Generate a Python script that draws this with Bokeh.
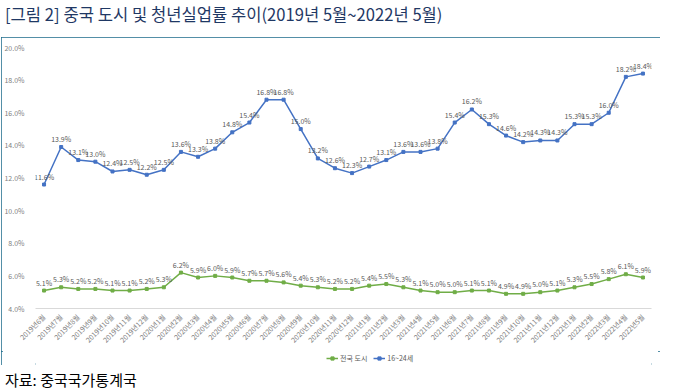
import math
from bokeh.plotting import figure
from bokeh.models import ColumnDataSource, FactorRange, Range1d, Legend, LegendItem, Div, FixedTicker, Spacer
from bokeh.layouts import column, row
from bokeh.embed import file_html
from bokeh.resources import INLINE
from bokeh.core.properties import value

months = ["2019년6월", "2019년7월", "2019년8월", "2019년9월", "2019년10월", "2019년11월", "2019년12월",
          "2020년1월", "2020년2월", "2020년3월", "2020년4월", "2020년5월", "2020년6월", "2020년7월",
          "2020년8월", "2020년9월", "2020년10월", "2020년11월", "2020년12월",
          "2021년1월", "2021년2월", "2021년3월", "2021년4월", "2021년5월", "2021년6월", "2021년7월",
          "2021년8월", "2021년9월", "2021년10월", "2021년11월", "2021년12월",
          "2022년1월", "2022년2월", "2022년3월", "2022년4월", "2022년5월"]
youth = [11.6, 13.9, 13.1, 13.0, 12.4, 12.5, 12.2, 12.5, 13.6, 13.3, 13.8, 14.8, 15.4, 16.8, 16.8, 15.0,
         13.2, 12.6, 12.3, 12.7, 13.1, 13.6, 13.6, 13.8, 15.4, 16.2, 15.3, 14.6, 14.2, 14.3, 14.3, 15.3,
         15.3, 16.0, 18.2, 18.4]
urban = [5.1, 5.3, 5.2, 5.2, 5.1, 5.1, 5.2, 5.3, 6.2, 5.9, 6.0, 5.9, 5.7, 5.7, 5.6, 5.4, 5.3, 5.2, 5.2,
         5.4, 5.5, 5.3, 5.1, 5.0, 5.0, 5.1, 5.1, 4.9, 4.9, 5.0, 5.1, 5.3, 5.5, 5.8, 6.1, 5.9]
series_names = ["전국 도시", "16~24세"]
y_ticks = [4, 6, 8, 10, 12, 14, 16, 18, 20]
y_tick_labels = ["4.0%", "6.0%", "8.0%", "10.0%", "12.0%", "14.0%", "16.0%", "18.0%", "20.0%"]
title_text = "[그림 2] 중국 도시 및 청년실업률 추이(2019년 5월~2022년 5월)"
source_text = "자료: 중국국가통계국"

FONT = "Noto Sans CJK KR"
BLUE = "#4472C4"
GREEN = "#70AD47"
LABEL = "#595959"
BORDER = "#1B6A8A"

src = ColumnDataSource(dict(
    m=months, youth=youth, urban=urban,
    youth_t=[f"{v:.1f}%" for v in youth],
    urban_t=[f"{v:.1f}%" for v in urban],
))

W = 659
p = figure(width=W, height=314, x_range=FactorRange(factors=months, range_padding=0),
           y_range=Range1d(4, 20), output_backend="svg", toolbar_location=None,
           min_border_left=28, min_border_right=9, min_border_top=10, min_border_bottom=40)
p.outline_line_color = None
p.xgrid.grid_line_color = None
p.ygrid.grid_line_color = None

ya = p.yaxis[0]
ya.ticker = FixedTicker(ticks=y_ticks)
ya.major_label_overrides = {t: l for t, l in zip(y_ticks, y_tick_labels)}
ya.axis_line_color = None
ya.major_tick_line_color = None
ya.minor_tick_line_color = None
ya.major_label_text_font = FONT
ya.major_label_text_font_size = "7px"
ya.major_label_text_color = "#808080"
ya.major_label_standoff = 5

xa = p.xaxis[0]
xa.axis_line_color = "#D9D9D9"
xa.major_tick_line_color = None
xa.minor_tick_line_color = None
xa.major_label_orientation = math.pi / 4
xa.major_label_text_font = FONT
xa.major_label_text_font_size = "7px"
xa.major_label_text_color = "#808080"
xa.major_label_standoff = 1

p.line("m", "urban", source=src, color=GREEN, line_width=1.5)
p.scatter("m", "urban", source=src, marker="square", size=3, color=GREEN)
p.line("m", "youth", source=src, color=BLUE, line_width=1.5)
p.scatter("m", "youth", source=src, marker="square", size=3, color=BLUE)

for col, tcol in (("youth", "youth_t"), ("urban", "urban_t")):
    p.text("m", col, text=tcol, source=src, text_font=value(FONT), text_font_size="7px",
           text_color=LABEL, text_align="center", text_baseline="middle", y_offset=-8)

# legend strip (legend proxies only, nothing drawn in the plot area)
lg = figure(width=W, height=14, x_range=Range1d(0, 1), y_range=Range1d(0, 1),
            output_backend="svg", toolbar_location=None, min_border=0)
lg.axis.visible = False
lg.grid.visible = False
lg.outline_line_color = None
items = []
nan = float("nan")
for name, colr in zip(series_names, [GREEN, BLUE]):
    r1 = lg.line(x=[nan], y=[nan], color=colr, line_width=1.5)
    r2 = lg.scatter(x=[nan], y=[nan], marker="square", size=3, color=colr)
    items.append(LegendItem(label=name, renderers=[r1, r2]))
legend = Legend(items=items, orientation="horizontal", location=(291, 2), padding=0, margin=0,
                spacing=6, glyph_width=12, glyph_height=8, label_standoff=2,
                label_text_font=FONT, label_text_font_size="7px", label_text_color=LABEL,
                background_fill_alpha=0, border_line_color=None)
lg.add_layout(legend, "center")

box = column(p, lg, spacing=0, styles={"outline": f"2px solid {BORDER}", "outline-offset": "-2px"})

title = Div(text=title_text, width=667, height=27,
            styles={"font-family": FONT, "font-size": "16.6px", "color": "#1F3864",
                    "line-height": "18px", "white-space": "nowrap"})
source = Div(text=source_text, width=667, height=19,
             styles={"font-family": FONT, "font-size": "15px", "color": "#000000",
                     "line-height": "19px", "white-space": "nowrap"})

layout = column(title, row(Spacer(width=1, height=10), box, spacing=0), source, spacing=0)
open("out.html", "w").write(file_html(layout, INLINE))
